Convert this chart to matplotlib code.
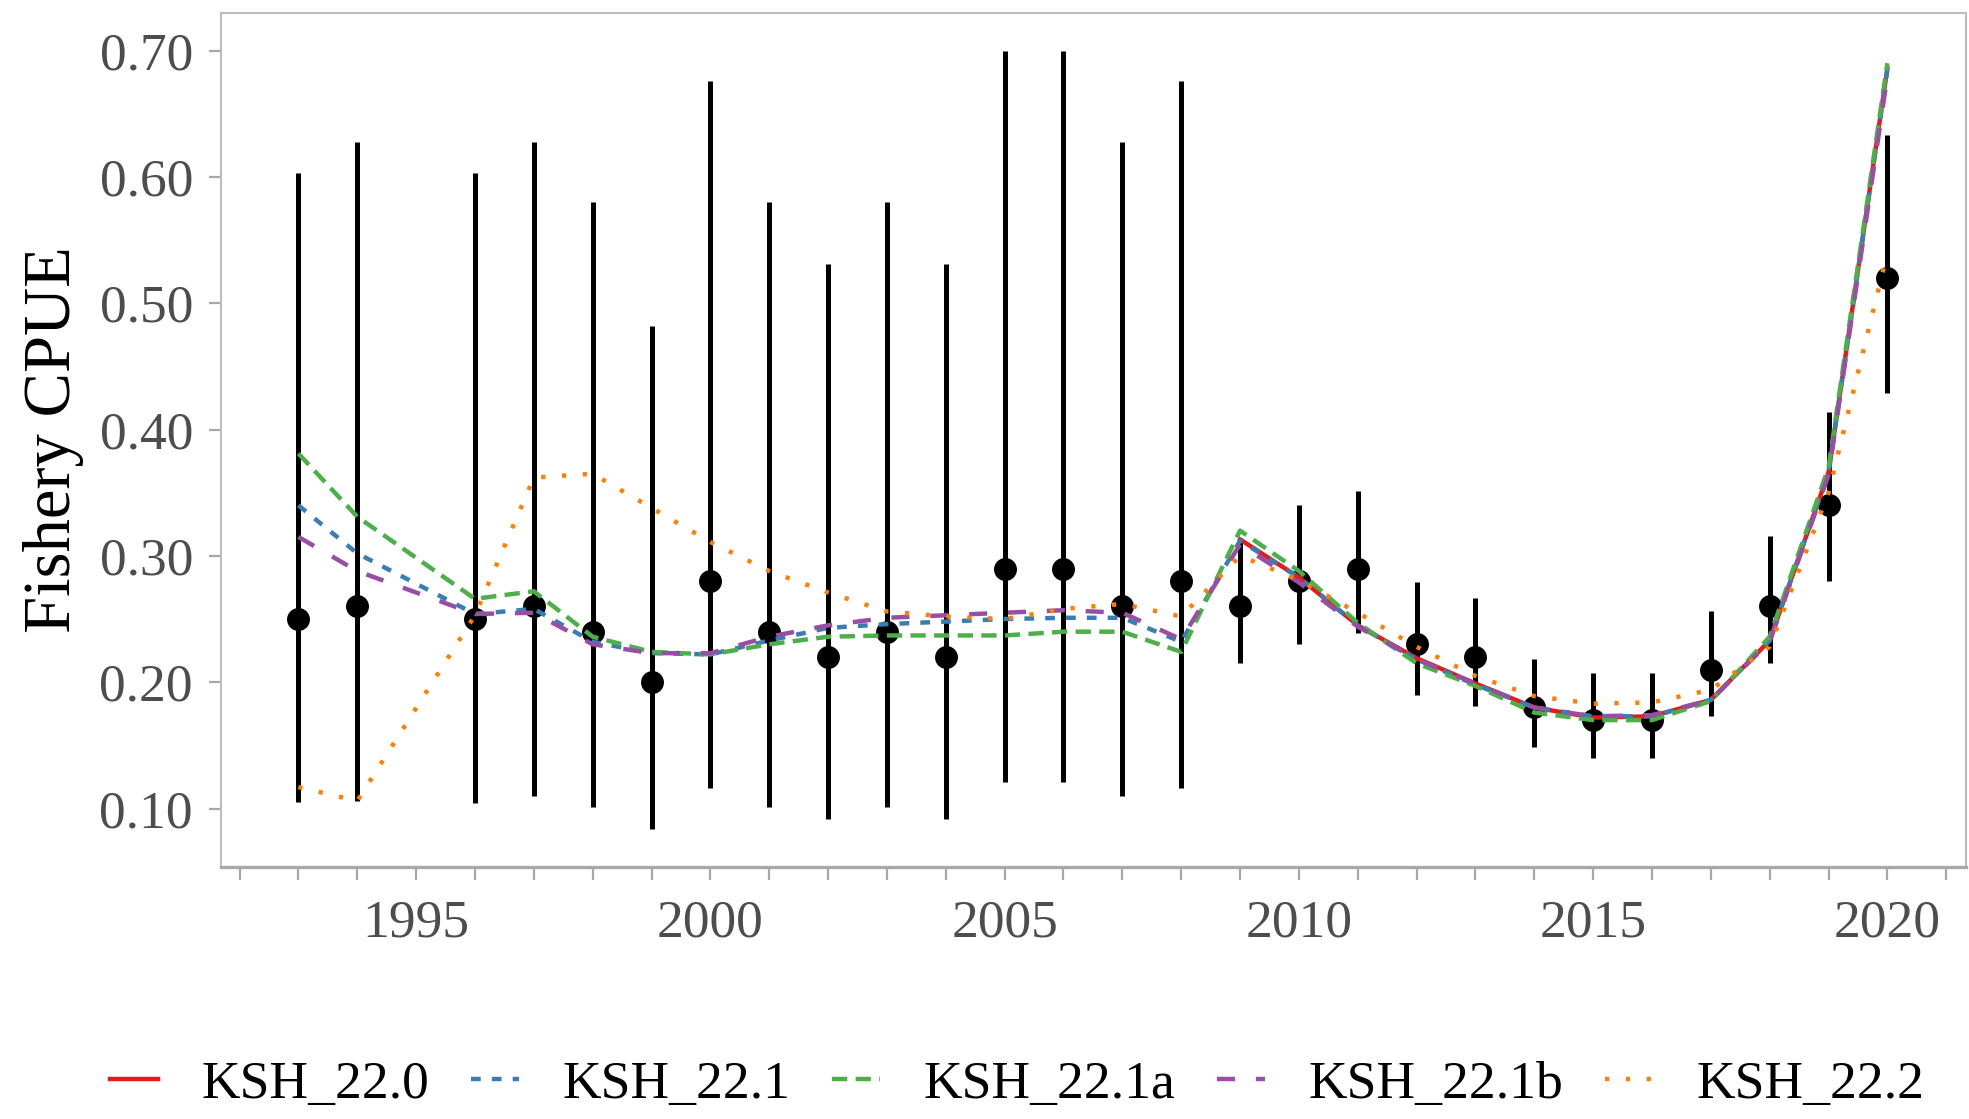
import matplotlib
matplotlib.use("Agg")
import matplotlib.pyplot as plt
from matplotlib.lines import Line2D

# ---------------- data ----------------
years = [1993, 1994, 1996, 1997, 1998, 1999, 2000, 2001, 2002, 2003, 2004, 2005,
         2006, 2007, 2008, 2009, 2010, 2011, 2012, 2013, 2014, 2015, 2016, 2017,
         2018, 2019, 2020]
obs = [0.25, 0.26, 0.25, 0.26, 0.24, 0.20, 0.28, 0.24, 0.22, 0.24, 0.22, 0.29,
       0.29, 0.26, 0.28, 0.26, 0.28, 0.29, 0.23, 0.22, 0.18, 0.17, 0.17, 0.21,
       0.26, 0.34, 0.52]
obs_lo = [0.105, 0.106, 0.104, 0.110, 0.101, 0.084, 0.116, 0.101, 0.092, 0.101,
          0.092, 0.121, 0.121, 0.110, 0.116, 0.215, 0.230, 0.239, 0.190, 0.181,
          0.149, 0.140, 0.140, 0.173, 0.215, 0.280, 0.429]
obs_hi = [0.603, 0.628, 0.603, 0.628, 0.580, 0.482, 0.676, 0.580, 0.531, 0.580,
          0.531, 0.700, 0.700, 0.628, 0.676, 0.314, 0.340, 0.351, 0.279, 0.267,
          0.218, 0.207, 0.207, 0.256, 0.316, 0.414, 0.633]

years_220 = [2009, 2010, 2011, 2012, 2013, 2014, 2015, 2016, 2017, 2018, 2019, 2020]
ksh_220 = [0.313, 0.283, 0.245, 0.219, 0.199, 0.180, 0.172, 0.173, 0.186, 0.233,
           0.366, 0.686]
ksh_221 = [0.340, 0.302, 0.254, 0.258, 0.232, 0.223, 0.222, 0.233, 0.243, 0.246,
           0.248, 0.250, 0.251, 0.251, 0.232, 0.312, 0.283, 0.245, 0.218, 0.198,
           0.180, 0.173, 0.173, 0.186, 0.233, 0.366, 0.685]
ksh_221a = [0.381, 0.331, 0.266, 0.272, 0.236, 0.224, 0.222, 0.230, 0.236, 0.237,
            0.237, 0.237, 0.240, 0.240, 0.224, 0.320, 0.288, 0.247, 0.215, 0.197,
            0.176, 0.170, 0.170, 0.185, 0.236, 0.370, 0.690]
ksh_221b = [0.315, 0.288, 0.254, 0.255, 0.230, 0.223, 0.223, 0.236, 0.245, 0.251,
            0.253, 0.255, 0.257, 0.255, 0.234, 0.309, 0.279, 0.244, 0.218, 0.199,
            0.180, 0.173, 0.174, 0.186, 0.232, 0.364, 0.680]
ksh_222 = [0.117, 0.106, 0.253, 0.362, 0.365, 0.338, 0.311, 0.288, 0.271, 0.256,
           0.252, 0.250, 0.258, 0.262, 0.252, 0.300, 0.281, 0.255, 0.228, 0.205,
           0.189, 0.183, 0.184, 0.194, 0.228, 0.350, 0.540]

labels = ["KSH_22.0", "KSH_22.1", "KSH_22.1a", "KSH_22.1b", "KSH_22.2"]
colors = ["#E41A1C", "#377EB8", "#4DAF4A", "#984EA3", "#FF7F00"]

yticks = [0.10, 0.20, 0.30, 0.40, 0.50, 0.60, 0.70]
xlabel_years = [1995, 2000, 2005, 2010, 2015, 2020]

# ---------------- style ----------------
plt.rcParams["font.family"] = ["Liberation Serif", "DejaVu Serif"]
plt.rcParams["lines.scale_dashes"] = False

fig = plt.figure(figsize=(19.69, 11.19), dpi=100)
ax = fig.add_axes([0.1121, 0.2255, 0.8862, 0.7632])

# observations with CI
ax.vlines(years, obs_lo, obs_hi, color="black", lw=3.6, zorder=2)
ax.plot(years, obs, "o", color="black", ms=15.5, zorder=3)

lw = 3.2
styles = [
    dict(ls="-"),
    dict(dashes=(7, 8)),
    dict(dashes=(11, 6)),
    dict(dashes=(13, 15)),
    dict(dashes=(3, 12)),
]
series_x = [years_220, years, years, years, years]
series_y = [ksh_220, ksh_221, ksh_221a, ksh_221b, ksh_222]
handles = []
for x, y, c, st, lab in zip(series_x, series_y, colors, styles, labels):
    ax.plot(x, y, color=c, lw=lw, zorder=4, **st)
    handles.append(Line2D([], [], color=c, lw=lw, **st))

ax.set_xlim(1991.68, 2021.33)
ax.set_ylim(0.054, 0.730)

ax.set_yticks(yticks)
ax.set_yticklabels([f"{v:.2f}" for v in yticks])
allyears = list(range(1992, 2022))
ax.set_xticks(allyears)
ax.set_xticklabels([str(y) if y in xlabel_years else "" for y in allyears])

ax.tick_params(axis="both", colors="#A8A8A8", width=1.6, length=9,
               labelcolor="#4D4D4D", labelsize=38.5)
ax.tick_params(axis="y", pad=11)
ax.tick_params(axis="x", pad=15)

for side in ["left", "top", "right"]:
    ax.spines[side].set_color("#BDBDBD")
    ax.spines[side].set_linewidth(1.5)
ax.spines["bottom"].set_color("#A8A8A8")
ax.spines["bottom"].set_linewidth(2.4)

fig.text(0.0272, 0.2255 + 0.7632 / 2, "Fishery CPUE", rotation=90,
         ha="center", va="center", fontsize=48, color="black")

fig.legend(handles, labels, loc="center", bbox_to_anchor=(0.5166, 0.031),
           ncol=5, frameon=False, fontsize=38.5, handlelength=0.9,
           handletextpad=0.82, columnspacing=0.77, borderpad=0)

fig.savefig("out.png", dpi=100)
